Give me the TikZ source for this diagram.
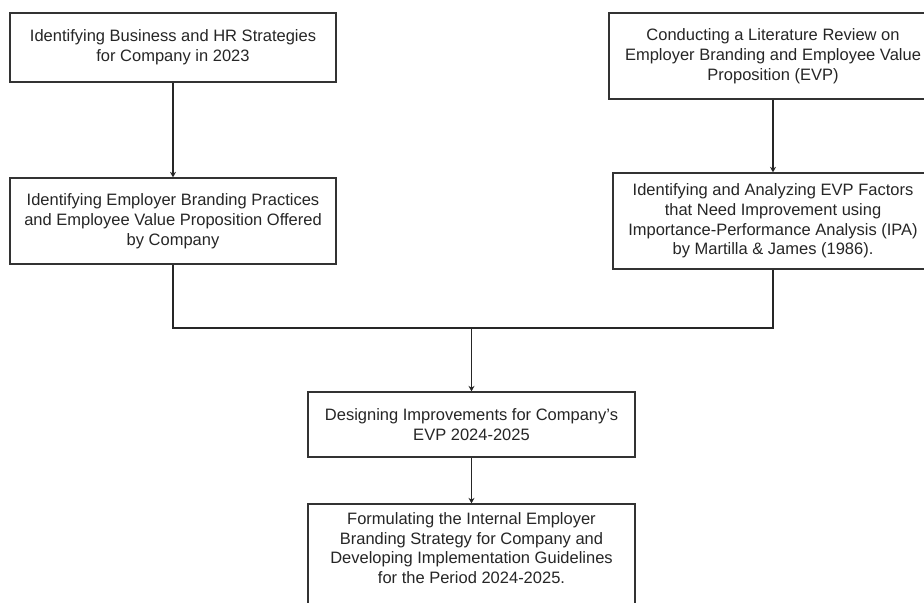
\documentclass[tikz,border=0pt]{standalone}
\usepackage{fontspec}
\setmainfont{Liberation Sans}
\usetikzlibrary{positioning, arrows.meta, calc}

\begin{document}
\begin{tikzpicture}[
        x=1bp, y=-1bp,
        >={Stealth[length=5.5bp,width=6bp]},
        line width=1.3bp,
        stage/.style={draw=black!80, rectangle, fill=white, text=black!85, align=center,
            inner sep=0pt, font=\fontsize{16.5bp}{19.8bp}\selectfont},
        flow/.style={draw=black!85, line width=1.3bp},
    ]
        \useasboundingbox (0,0) rectangle (924,603);

        % Draw the left column of stages
        \node[stage, minimum width=326bp, minimum height=69bp] (business) at (173,47.5)
            {Identifying Business and HR Strategies\\for Company in 2023};
        \node[stage, minimum width=326bp, minimum height=86bp] (practices) at (173,221)
            {Identifying Employer Branding Practices\\and Employee Value Proposition Offered\\by Company};

        % Draw the right column of stages
        \node[stage, minimum width=328bp, minimum height=86bp] (review) at (773,56)
            {Conducting a Literature Review on\\Employer Branding and Employee Value\\Proposition (EVP)};
        \node[stage, minimum width=320bp, minimum height=96bp] (ipa) at (773,221)
            {Identifying and Analyzing EVP Factors\\that Need Improvement using\\Importance-Performance Analysis (IPA)\\by Martilla \& James (1986).};

        % Draw the merged stages
        \node[stage, minimum width=327bp, minimum height=65bp] (design) at (471.5,424.5)
            {Designing Improvements for Company’s\\EVP 2024-2025};
        \node[stage, minimum width=327bp, minimum height=112bp] (strategy) at (471.5,560)
            {Formulating the Internal Employer\\Branding Strategy for Company and\\Developing Implementation Guidelines\\for the Period 2024-2025.\rule[-24bp]{0pt}{0pt}};

        % Connect the stages
        \coordinate (join) at (471.5,328);
        \draw[flow, ->] (business) -- (practices);
        \draw[flow, ->] (review) -- (ipa);
        \draw[flow] (practices.south) |- (join);
        \draw[flow] (ipa.south) |- (join);
        \draw[flow, ->] (join) -- (design.north);
        \draw[flow, ->] (design) -- (strategy);
\end{tikzpicture}
\end{document}
